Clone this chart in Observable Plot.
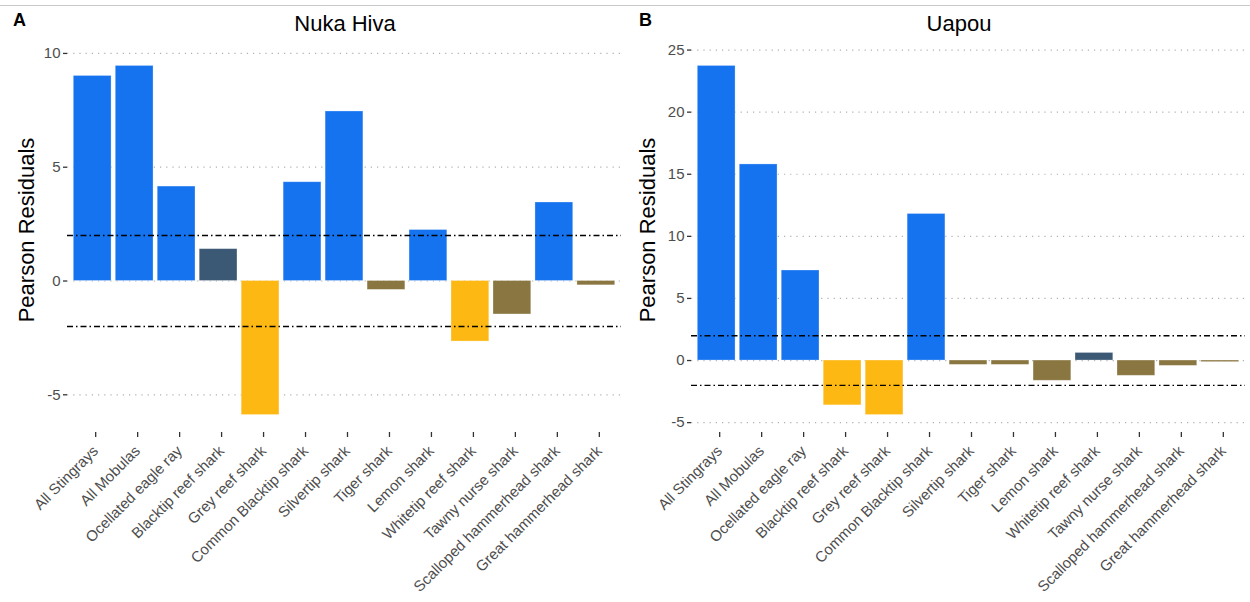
<!DOCTYPE html>
<html>
<head>
<meta charset="utf-8">
<script src="https://cdn.jsdelivr.net/npm/d3@7"></script>
<script src="https://cdn.jsdelivr.net/npm/@observablehq/plot@0.6"></script>
<style>
  html, body { margin: 0; padding: 0; background: #fff; }
  body { width: 1250px; height: 602px; position: relative; overflow: hidden;
         font-family: "Liberation Sans", Arial, Helvetica, sans-serif; }
  #topline { position: absolute; left: 0; top: 5px; width: 1250px; height: 1px; background: #c8c8c8; }
  .panel { position: absolute; top: 0; width: 625px; height: 602px; }
  .tag { position: absolute; top: 10px; font-weight: bold; font-size: 18px; color: #000; }
  .title { position: absolute; top: 11px; font-size: 22px; color: #000; transform: translateX(-50%); white-space: nowrap; }
  .ylab { position: absolute; font-size: 22px; color: #000; white-space: nowrap;
          transform: translate(-50%, -50%) rotate(-90deg); }
  svg { font-family: "Liberation Sans", Arial, Helvetica, sans-serif; }
</style>
</head>
<body>
<div id="topline"></div>
<div id="pa" class="panel" style="left:0"></div>
<div id="pb" class="panel" style="left:625px"></div>
<script>
const species = [
  "All Stingrays", "All Mobulas", "Ocellated eagle ray", "Blacktip reef shark",
  "Grey reef shark", "Common Blacktip shark", "Silvertip shark", "Tiger shark",
  "Lemon shark", "Whitetip reef shark", "Tawny nurse shark",
  "Scalloped hammerhead shark", "Great hammerhead shark"
];
const nukaHiva = [9.01, 9.45, 4.15, 1.40, -5.89, 4.34, 7.45, -0.39, 2.24, -2.66, -1.47, 3.45, -0.19];
const uapou    = [23.72, 15.79, 7.25, -3.61, -4.39, 11.8, -0.35, -0.35, -1.63, 0.61, -1.23, -0.43, -0.13];
const nukaTicks = [-5, 0, 5, 10];
const uapouTicks = [-5, 0, 5, 10, 15, 20, 25];
const threshold = 2;

const colors = {
  sigPos: "#1573EF",
  pos: "#3B5875",
  sigNeg: "#FDB813",
  neg: "#8A7641"
};
function cls(v) {
  if (v >= threshold) return "sigPos";
  if (v >= 0) return "pos";
  if (v <= -threshold) return "sigNeg";
  return "neg";
}

function panel(el, tag, title, values, ticks, opts) {
  const data = species.map((s, i) => ({ species: s, value: values[i], cls: cls(values[i]) }));
  const lo = d3.min(values), hi = d3.max(values);
  const pad = (hi - lo) * 0.05;
  const chart = Plot.plot({
    width: 625,
    height: 602,
    marginLeft: opts.ml,
    marginRight: opts.mr,
    marginTop: 48,
    marginBottom: 170,
    style: { fontSize: "15px", color: "#4D4D4D", background: "transparent" },
    x: { domain: species, paddingInner: 0.1, paddingOuter: 0.15, align: 0.5, round: false, label: null },
    y: { domain: [lo - pad, hi + pad], label: null },
    marks: [
      Plot.ruleY(ticks, { stroke: "#b0b0b0", strokeWidth: 1.2, strokeDasharray: "1.2,5" }),
      Plot.barY(data, { x: "species", y: "value", fill: d => colors[d.cls], stroke: "#ffffff", strokeOpacity: 0.35, strokeWidth: 0.8 }),
      Plot.ruleY([threshold, -threshold], { stroke: "#000", strokeWidth: 1.4, strokeDasharray: "6,3,1.5,3" }),
      Plot.axisY({ ticks: ticks, tickFormat: d => String(d), tickSize: 4, tickPadding: 3, stroke: "#333", strokeWidth: 1.3, fontSize: 15, fill: "#4D4D4D", label: null }),
      Plot.axisX({ tickRotate: -45, tickSize: 5, tickPadding: 11, dx: 3, fontSize: 15, fill: "#4D4D4D", stroke: "#333", strokeWidth: 1.3, label: null })
    ]
  });
  const host = document.getElementById(el);
  host.appendChild(chart);
  const t = document.createElement("div"); t.className = "tag"; t.textContent = tag;
  t.style.left = opts.tagX + "px"; host.appendChild(t);
  const h = document.createElement("div"); h.className = "title"; h.textContent = title;
  h.style.left = opts.titleX + "px"; host.appendChild(h);
  const y = document.createElement("div"); y.className = "ylab"; y.textContent = "Pearson Residuals";
  y.style.left = opts.ylabX + "px"; y.style.top = "230px"; host.appendChild(y);
}

panel("pa", "A", "Nuka Hiva", nukaHiva, nukaTicks, { ml: 67, mr: 4, tagX: 13, titleX: 345, ylabX: 27 });
panel("pb", "B", "Uapou", uapou, uapouTicks, { ml: 66, mr: 5, tagX: 14, titleX: 334, ylabX: 23 });
</script>
</body>
</html>
